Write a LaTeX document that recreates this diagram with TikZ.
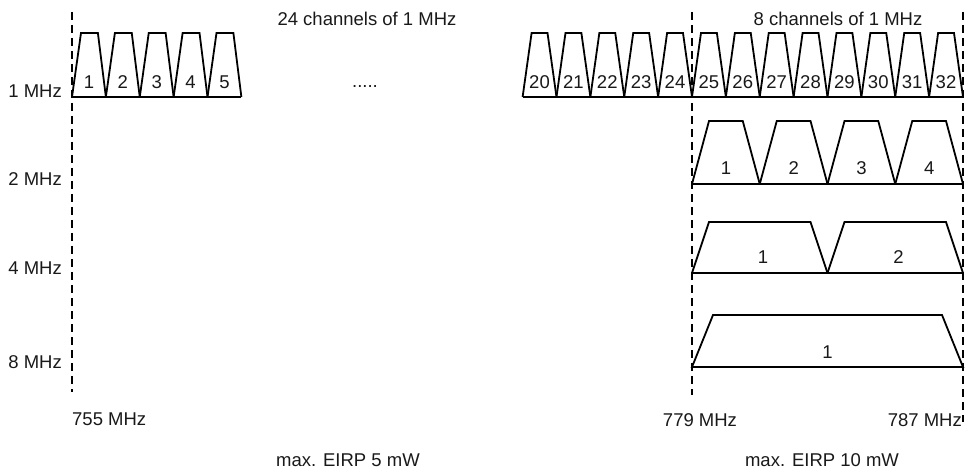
\documentclass[tikz,border=0pt]{standalone}
\usepackage{fontspec}
\setmainfont{Liberation Sans}
\usepackage{tikz}
\usetikzlibrary{positioning, calc}

\begin{document}
\begin{tikzpicture}[x=1pt, y=-1pt,
  chan/.style={line width=1.8pt, line join=miter, black},
  bound/.style={line width=1.7pt, dash pattern=on 8pt off 5pt, black},
  lbl/.style={font=\fontsize{18.5}{21}\selectfont, inner sep=0pt, text=black!90},
]
\useasboundingbox (0,0) rectangle (968,470);

% frequency boundaries
\coordinate (f755t) at (72,12);  \coordinate (f755b) at (72,392);
\coordinate (f779t) at (692,12); \coordinate (f779b) at (692,395);
\coordinate (f787t) at (963,12); \coordinate (f787b) at (963,422);
\draw[bound] (f755t) -- (f755b);
\draw[bound] (f779t) -- (f779b);
\draw[bound] (f787t) -- (f787b);

% 1 MHz channels, first group
\foreach \n [count=\i from 0] in {1,...,5} {
  \draw[chan] ({72+33.875*\i},97) -- ({81+33.875*\i},33)
              -- ({97.875+33.875*\i},33) -- ({105.875+33.875*\i},97);
  \node[lbl] (ch\n) at ({88.9+33.875*\i},82) {\n};
}
\draw[chan] (72,97) -- (241.4,97);

% 1 MHz channels, second group
\foreach \n [count=\i from 0] in {20,...,32} {
  \draw[chan] ({522.6+33.875*\i},97) -- ({531.6+33.875*\i},33)
              -- ({547.5+33.875*\i},33) -- ({556.5+33.875*\i},97);
  \node[lbl] (ch\n) at ({539.5+33.875*\i},82) {\n};
}
\draw[chan] (522.6,97) -- (963,97);

% 2 MHz channels
\foreach \n [count=\i from 0] in {1,...,4} {
  \draw[chan] ({692+67.75*\i},184) -- ({709+67.75*\i},121)
              -- ({742.75+67.75*\i},121) -- ({759.75+67.75*\i},184);
  \node[lbl] (two\n) at ({725.9+67.75*\i},168) {\n};
}
\draw[chan] (692,184) -- (963,184);

% 4 MHz channels
\foreach \n [count=\i from 0] in {1,2} {
  \draw[chan] ({692+135.5*\i},273) -- ({709+135.5*\i},222)
              -- ({810.5+135.5*\i},222) -- ({827.5+135.5*\i},273);
  \node[lbl] (four\n) at ({763+135.5*\i},257) {\n};
}
\draw[chan] (692,273) -- (963,273);

% 8 MHz channel
\draw[chan] (692,367) -- (713,315) -- (942,315) -- (963,367) -- cycle;
\node[lbl] (eight1) at (827.5,352) {1};

% bandwidth labels
\node[lbl, anchor=east] (bw1) at (62,91)  {1 MHz};
\node[lbl, anchor=east] (bw2) at (62,179) {2 MHz};
\node[lbl, anchor=east] (bw4) at (62,268) {4 MHz};
\node[lbl, anchor=east] (bw8) at (62,362) {8 MHz};

% titles
\node[lbl] (lowtitle)  at (367,19) {24 channels of 1 MHz};
\node[lbl] (hightitle) at (838,19) {8 channels of 1 MHz};
\node[lbl] (dots) at (365,87) {.....};

% frequencies
\node[lbl, anchor=west] (lo)  at (72,419)  {755 MHz};
\node[lbl] (mid) at (700,420) {779 MHz};
\node[lbl, anchor=east] (hi)  at (962,420) {787 MHz};

% power limits
\node[lbl] (plow)  at (348,460) {max. EIRP 5 mW};
\node[lbl] (phigh) at (822,460) {max. EIRP 10 mW};
\end{tikzpicture}
\end{document}
